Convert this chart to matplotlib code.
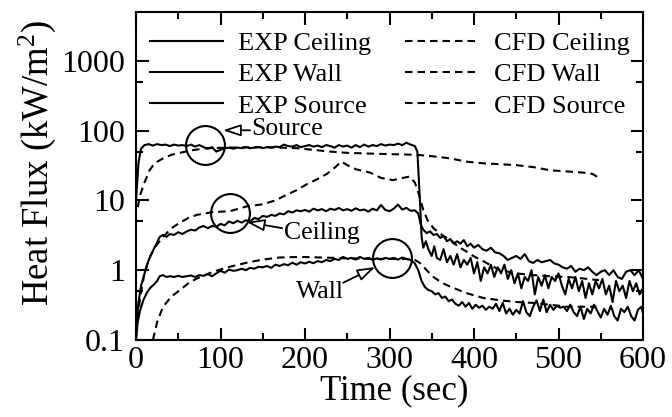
import matplotlib
matplotlib.use("Agg")
import matplotlib.pyplot as plt
from matplotlib.ticker import FixedLocator, NullFormatter, MultipleLocator

plt.rcParams["font.family"] = ["Liberation Serif", "DejaVu Serif"]
plt.rcParams["mathtext.fontset"] = "custom"
plt.rcParams["mathtext.rm"] = "Liberation Serif"
plt.rcParams["mathtext.it"] = "Liberation Serif:italic"

# ---------------- measured heat flux (kW/m^2) ----------------
exp_source_t = [0, 3, 6, 10, 15, 20, 25, 30, 35, 40, 45, 50, 55, 60, 65, 70, 75, 80, 85, 90,
                95, 100, 105, 110, 115, 120, 125, 130, 135, 140, 145, 150, 155, 160, 165, 170,
                175, 180, 185, 190, 195, 200, 205, 210, 215, 220, 225, 230, 235, 240, 245, 250,
                255, 260, 265, 270, 275, 280, 285, 290, 295, 300, 305, 310, 315, 320, 325, 330,
                333, 336, 338, 340, 343, 346, 350, 353, 356, 360, 364, 368, 372, 376, 380, 384,
                388, 392, 396, 400, 404, 408, 412, 416, 420, 424, 428, 432, 436, 440, 444, 448,
                452, 456, 460, 464, 468, 472, 476, 480, 484, 488, 492, 496, 500, 504, 508, 512,
                516, 520, 524, 528, 532, 536, 540, 544, 548, 552, 556, 560, 564, 568, 572, 576,
                580, 584, 588, 592, 596, 600]
exp_source_q = [10, 35, 55, 62, 64, 61, 64, 62, 63, 60, 63, 61, 62, 60, 63, 59, 62, 58, 55, 58,
                50, 53, 56, 57, 55, 57, 56, 58, 56, 57, 58, 56, 58, 57, 59, 58,
                63, 60, 59, 62, 58, 60, 62, 59, 61, 58, 62, 60, 57, 62, 59, 61,
                57, 62, 58, 63, 59, 62, 60, 64, 61, 63, 62, 65, 62, 67, 63, 60,
                50, 10, 3.0, 2.1, 2.6, 2.0, 1.6, 2.2, 1.5, 1.4, 2.0, 1.3, 1.6, 1.2, 1.7, 1.1,
                1.4, 1.2, 1.5, 0.9, 1.3, 0.7, 1.1, 0.9, 1.2, 0.8, 1.1, 0.9, 1.2, 0.75, 1.0, 0.65,
                0.9, 0.55, 0.8, 0.7, 1.0, 0.45, 0.8, 0.6, 0.85, 0.55, 0.8, 0.7, 0.9, 0.6, 0.45, 0.75,
                0.55, 0.8, 0.5, 0.7, 0.4, 0.65, 0.45, 0.7, 0.55, 0.75, 0.45, 0.6, 0.35, 0.7, 0.5, 0.6,
                0.4, 0.7, 0.5, 0.65, 0.45, 0.55]

exp_ceiling_t = [0, 1, 3, 6, 9, 13, 17, 21, 25, 28, 32, 36, 40, 45, 50, 55, 60, 65, 70, 75,
                 80, 85, 90, 95, 100, 105, 110, 115, 120, 125, 130, 135, 140, 145, 150, 155,
                 160, 165, 170, 175, 180, 185, 190, 195, 200, 205, 210, 215, 220, 225, 230,
                 235, 240, 245, 250, 255, 260, 265, 270, 275, 280, 285, 290, 295, 300, 305,
                 310, 315, 320, 325, 330, 334, 337, 340, 344, 348, 352, 356, 360, 364, 368,
                 372, 376, 380, 384, 388, 392, 396, 400, 405, 410, 415, 420, 425, 430, 435,
                 440, 445, 450, 455, 460, 465, 470, 475, 480, 485, 490, 495, 500, 505, 510,
                 515, 520, 525, 530, 535, 540, 545, 550, 555, 560, 565, 570, 575, 580, 585,
                 590, 595, 600]
exp_ceiling_q = [0.1, 0.2, 0.35, 0.6, 0.8, 1.2, 1.6, 2.0, 2.5, 3.0, 3.2, 3.0, 3.3, 3.2, 3.5, 3.3,
                 3.6, 3.8, 3.7, 4.1, 4.3, 4.0, 4.3, 4.2, 4.6, 4.4, 5.0, 4.7, 5.1, 4.8, 5.2, 5.0,
                 5.6, 5.4, 6.0, 5.8, 6.2, 6.0, 6.5, 6.3, 7.0, 6.7, 7.2, 7.0, 7.3, 6.9, 7.6,
                 7.2, 7.5, 7.0, 7.6, 7.3, 7.8, 7.2, 7.5, 7.1, 7.7, 7.2, 7.4, 6.9, 7.6, 7.2,
                 8.6, 7.3, 7.0, 7.6, 8.7, 7.4, 7.8, 7.1, 7.2, 6.5, 4.5, 3.8, 3.4, 3.6, 3.2,
                 3.3, 2.9, 3.1, 2.6, 2.8, 2.4, 2.6, 2.4, 2.7, 2.2, 2.4, 2.1, 2.3, 2.0, 1.9,
                 2.1, 1.8, 1.75, 1.6, 1.4, 1.5, 1.6, 1.45, 1.7, 1.35, 1.27, 1.4, 1.3, 1.35,
                 1.4, 1.25, 1.2, 1.1, 1.05, 1.15, 0.95, 1.05, 1.0, 1.1, 0.95, 0.85, 0.95,
                 1.0, 0.85, 1.0, 0.8, 0.75, 0.95, 1.0, 0.85, 1.0, 0.75]

exp_wall_t = [0, 2, 5, 9, 13, 17, 21, 25, 28, 32, 36, 40, 45, 50, 55, 60, 65, 70, 75, 80, 85,
              90, 95, 100, 105, 110, 115, 120, 125, 130, 135, 140, 145, 150, 155, 160, 165,
              170, 175, 180, 185, 190, 195, 200, 205, 210, 215, 220, 225, 230, 235, 240, 245,
              250, 255, 260, 265, 270, 275, 280, 285, 290, 295, 300, 305, 310, 315, 320, 325,
              330, 334, 338, 342, 346, 350, 354, 358, 362, 366, 370, 374, 378, 382, 386, 390,
              394, 398, 402, 406, 410, 414, 418, 422, 426, 430, 434, 438, 442, 446, 450, 454,
              458, 462, 466, 470, 474, 478, 482, 486, 490, 494, 498, 502, 506, 510, 514, 518,
              522, 526, 530, 534, 538, 542, 546, 550, 554, 558, 562, 566, 570, 574, 578, 582,
              586, 590, 594, 598, 600]
exp_wall_q = [0.1, 0.18, 0.27, 0.38, 0.48, 0.56, 0.62, 0.7, 0.82, 0.85, 0.8, 0.82, 0.8, 0.83,
              0.8, 0.82, 0.84, 0.8, 0.85, 0.83, 0.88, 0.82, 0.9, 0.98, 0.92, 1.02, 0.98, 1.0,
              1.05, 1.0, 1.08, 1.05, 1.12, 1.1, 1.15, 1.08, 1.2, 1.15, 1.22, 1.18, 1.28, 1.2,
              1.3, 1.25, 1.32, 1.26, 1.35, 1.3, 1.4, 1.35, 1.45, 1.4, 1.55, 1.45, 1.5, 1.42,
              1.55, 1.45, 1.5, 1.4, 1.48, 1.42, 1.5, 1.45, 1.5, 1.42, 1.52, 1.45, 1.4, 1.25,
              1.0, 0.7, 0.57, 0.52, 0.5, 0.45, 0.47, 0.4, 0.42, 0.36, 0.38, 0.33, 0.31, 0.35,
              0.3, 0.34, 0.28, 0.32, 0.29, 0.31, 0.27, 0.3, 0.28, 0.33, 0.26, 0.34, 0.24, 0.28,
              0.23, 0.27, 0.24, 0.36, 0.25, 0.22, 0.3, 0.37, 0.26, 0.38, 0.25, 0.32, 0.27,
              0.31, 0.29, 0.3, 0.26, 0.32, 0.25, 0.22, 0.3, 0.2, 0.28, 0.24, 0.32, 0.26, 0.21,
              0.28, 0.23, 0.31, 0.22, 0.19, 0.28, 0.25, 0.3, 0.22, 0.19, 0.27, 0.3, 0.24]

# ---------------- simulated heat flux (kW/m^2) ----------------
cfd_source_t = [2, 5, 10, 16, 22, 32, 42, 52, 65, 84, 111, 150, 190, 230, 250, 273, 300, 332,
                350, 372, 390, 411, 430, 450, 470, 490, 510, 529, 540, 548]
cfd_source_q = [8, 12, 18, 27, 34, 40, 45, 48, 52, 56, 57, 58, 56, 50, 48, 47, 46, 45, 43, 40,
                36, 34, 33, 32, 30, 27, 26, 25, 24, 21]

cfd_ceiling_t = [2, 5, 10, 16, 22, 32, 42, 52, 62, 72, 91, 111, 131, 150, 165, 178, 190, 202,
                 214, 226, 236, 243, 250, 260, 277, 290, 304, 316, 324, 330, 335, 340, 345,
                 352, 362, 372, 381, 391, 401, 411, 421, 431, 450, 470, 490, 510, 530, 548]
cfd_ceiling_q = [0.2, 0.42, 0.9, 1.5, 2.1, 3.0, 4.0, 4.8, 5.6, 6.2, 6.8, 7.0, 8.2, 8.8, 10.0,
                 12, 14, 17, 20, 24, 30, 36, 32, 28, 25, 21, 19.5, 21, 22, 18, 12, 7.3, 5.2,
                 4.0, 3.2, 2.7, 2.2, 1.85, 1.55, 1.35, 1.15, 1.0, 0.9, 0.85, 0.82, 0.8, 0.76,
                 0.72]

cfd_wall_t = [20, 25, 32, 42, 52, 62, 72, 91, 111, 131, 150, 170, 194, 220, 250, 280, 300,
              320, 330, 336, 344, 352, 362, 372, 391, 411, 431, 450, 470, 490, 510, 530, 545]
cfd_wall_q = [0.1, 0.18, 0.3, 0.42, 0.52, 0.65, 0.76, 0.95, 1.12, 1.28, 1.42, 1.52, 1.55,
              1.52, 1.48, 1.45, 1.45, 1.45, 1.4, 1.27, 1.0, 0.8, 0.66, 0.58, 0.47, 0.4,
              0.37, 0.35, 0.34, 0.32, 0.30, 0.30, 0.30]

series = [
    ("EXP Ceiling", exp_ceiling_t, exp_ceiling_q, "-"),
    ("EXP Wall", exp_wall_t, exp_wall_q, "-"),
    ("EXP Source", exp_source_t, exp_source_q, "-"),
    ("CFD Ceiling", cfd_ceiling_t, cfd_ceiling_q, "--"),
    ("CFD Wall", cfd_wall_t, cfd_wall_q, "--"),
    ("CFD Source", cfd_source_t, cfd_source_q, "--"),
]

# circled comparison regions and their callouts
circle_t = [81.7, 111, 303.5]
circle_q = [62, 6.7, 1.5]
callout_labels = ["Source", "Ceiling", "Wall"]
callout_text_t = [136, 175, 218]
callout_text_q = [106, 3.45, 0.48]
callout_ha = ["left", "left", "center"]
arrow_tail_t = [135, 173, 245]
arrow_tail_q = [101, 4.0, 0.66]
arrow_tip_t = [103, 131, 283]
arrow_tip_q = [101, 4.9, 1.11]

fig = plt.figure(figsize=(6.72, 4.17), dpi=100)
ax = fig.add_axes([136 / 672, 1 - 340 / 417, (643 - 136) / 672, (340 - 12) / 417])

for name, t, q, ls in series:
    kw = dict(color="black", lw=1.5, label=name)
    if ls == "--":
        kw["dashes"] = (3.6, 2.4)
    ax.plot(t, q, **kw)

ax.set_yscale("log")
ax.set_ylim(0.1, 5000)
ax.set_xlim(0, 600)

ax.yaxis.set_major_locator(FixedLocator([0.1, 1, 10, 100, 1000]))
ax.set_yticklabels(["0.1", "1", "10", "100", "1000"])
ax.yaxis.set_minor_locator(FixedLocator([0.5, 5, 50, 500]))
ax.yaxis.set_minor_formatter(NullFormatter())
ax.xaxis.set_major_locator(MultipleLocator(100))
ax.xaxis.set_minor_locator(MultipleLocator(50))

ax.tick_params(which="both", direction="in", top=True, right=True, width=1.5)
ax.tick_params(which="major", length=9, labelsize=23)
ax.tick_params(axis="y", which="major", pad=8)
ax.tick_params(axis="x", which="major", pad=4)
ax.tick_params(which="minor", length=5)
for s in ax.spines.values():
    s.set_linewidth(1.5)

ax.set_xlabel("Time (sec)", fontsize=25, labelpad=0)
ax.xaxis.label.set_x(0.51)
ax.set_ylabel(r"Heat Flux (kW/m$^2$)", fontsize=26.5, labelpad=2)
ax.yaxis.label.set_y(0.54)

ax.legend(ncol=2, frameon=False, fontsize=19, loc="upper left",
          bbox_to_anchor=(0.006, 0.973), handlelength=2.8, handletextpad=0.55,
          columnspacing=1.3, labelspacing=0.3, borderaxespad=0.0)

for t, q in zip(circle_t, circle_q):
    ax.plot([t], [q], marker="o", ms=28, mfc="none", mec="black", mew=1.5, ls="none")

arrow = dict(arrowstyle="-|>,head_length=0.6,head_width=0.2", fc="white", ec="black",
             lw=1.3, mutation_scale=18, shrinkA=0, shrinkB=0)
for lab, tx, qx, ha, t0, q0, t1, q1 in zip(callout_labels, callout_text_t, callout_text_q,
                                             callout_ha, arrow_tail_t, arrow_tail_q,
                                             arrow_tip_t, arrow_tip_q):
    ax.annotate("", xy=(t1, q1), xytext=(t0, q0), arrowprops=arrow)
    ax.text(tx, qx, lab, fontsize=18.5, ha=ha, va="center")

fig.savefig("out.png", dpi=100)
